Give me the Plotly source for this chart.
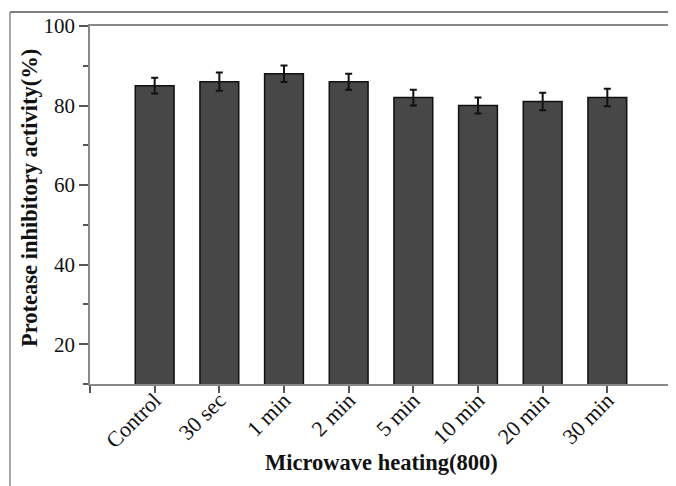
import plotly.graph_objects as go

categories = ["Control", "30 sec", "1 min", "2 min", "5 min", "10 min", "20 min", "30 min"]
activity = [85, 86, 88, 86, 82, 80, 81, 82]
errors = [2.0, 2.3, 2.1, 2.0, 2.0, 2.0, 2.2, 2.2]
y_ticks = [20, 40, 60, 80, 100]

positions = list(range(1, len(categories) + 1))

OFF = 8  # page body margin offset
W, H = 676 - OFF, 486 - OFF
L, R, T, B = 90 - OFF, 4, 26 - OFF, 486 - 384
pw, ph = W - L - R, H - T - B

fig = go.Figure()
fig.add_trace(go.Bar(
    x=positions, y=activity, width=0.6,
    marker=dict(color="#474747", line=dict(color="#111111", width=1.5)),
    error_y=dict(type="data", array=errors, visible=True, color="#111111", thickness=2, width=3.5),
    showlegend=False,
))

font_family = "Liberation Serif, Times New Roman, serif"

fig.update_layout(
    width=W, height=H,
    margin=dict(l=L, r=R, t=T, b=B, autoexpand=False),
    paper_bgcolor="white", plot_bgcolor="white",
    font=dict(family=font_family, color="#111111"),
    xaxis=dict(
        range=[0, len(categories) + 1],
        tickvals=[0] + positions + [len(categories) + 1],
        ticktext=[""] + categories + [""],
        tickangle=-45,
        tickfont=dict(size=22, family=font_family),
        ticklabelstandoff=-14,
        ticks="outside", ticklen=7, tickwidth=1.5, tickcolor="#555555",
        showline=True, linecolor="#888888", linewidth=1.5, mirror=True,
        showgrid=False, zeroline=False, automargin=False,
    ),
    yaxis=dict(
        range=[10, 100],
        tickvals=y_ticks,
        tickfont=dict(size=21, family=font_family),
        ticks="outside", ticklen=9, tickwidth=1.5, tickcolor="#555555",
        minor=dict(dtick=10, tick0=0, ticks="outside", ticklen=5, tickwidth=1.5, tickcolor="#555555", showgrid=False),
        showline=True, linecolor="#888888", linewidth=1.5, mirror=True,
        showgrid=False, zeroline=False, automargin=False,
    ),
    bargap=0.4,
)

def px_x(p):
    return (p - OFF - L) / pw

def px_y(p):
    return (H - B - (p - OFF)) / ph

fig.add_annotation(text="<b>Microwave heating(800)</b>", xref="paper", yref="paper",
                   x=0.5, y=px_y(462), xanchor="center", yanchor="middle", showarrow=False,
                   font=dict(size=22.5, family=font_family, color="#111111"))
fig.add_annotation(text="<b>Protease inhibitory activity(%)</b>", xref="paper", yref="paper",
                   x=px_x(29), y=px_y(198), xanchor="center", yanchor="middle", showarrow=False,
                   textangle=-90,
                   font=dict(size=22.5, family=font_family, color="#111111"))

fig.add_shape(type="line", xref="paper", yref="paper",
              x0=px_x(10), x1=px_x(690), y0=px_y(12), y1=px_y(12),
              line=dict(color="#555555", width=1.5))
fig.add_shape(type="line", xref="paper", yref="paper",
              x0=px_x(10), x1=px_x(10), y0=px_y(12), y1=px_y(500),
              line=dict(color="#888888", width=1.5))

fig.write_html("out.html")
